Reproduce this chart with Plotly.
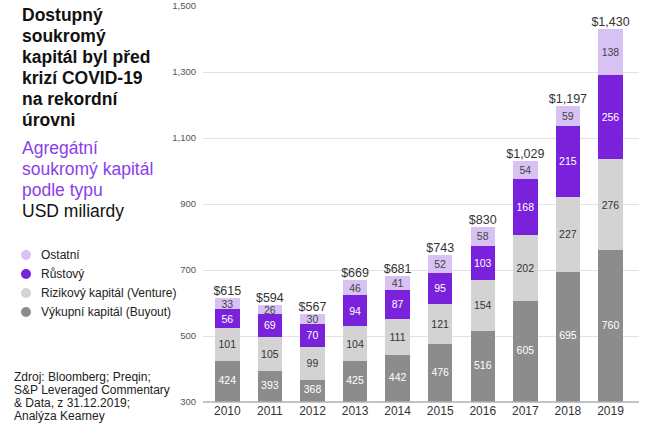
import plotly.graph_objects as go

years = ["2010", "2011", "2012", "2013", "2014", "2015", "2016", "2017", "2018", "2019"]
buyout = [424, 393, 368, 425, 442, 476, 516, 605, 695, 760]
venture = [101, 105, 99, 104, 111, 121, 154, 202, 227, 276]
growth = [56, 69, 70, 94, 87, 95, 103, 168, 215, 256]
other = [33, 26, 30, 46, 41, 52, 58, 54, 59, 138]
totals = [615, 594, 567, 669, 681, 743, 830, 1029, 1197, 1430]
y_ticks = [300, 500, 700, 900, 1100, 1300, 1500]
y_min, y_max = 300, 1500

series_names = ["Výkupní kapitál (Buyout)", "Rizikový kapitál (Venture)", "Růstový", "Ostatní"]
series_vals = [buyout, venture, growth, other]
series_colors = ["#8c8c8c", "#d3d3d3", "#7a22db", "#d8c1f3"]
text_colors = ["#ffffff", "#333333", "#ffffff", "#444444"]

FONT = "Liberation Sans, Arial, sans-serif"

fig = go.Figure()
for i, (name, vals, col, tcol) in enumerate(zip(series_names, series_vals, series_colors, text_colors)):
    fig.add_trace(go.Bar(
        x=years, y=vals, name=name, marker=dict(color=col, line=dict(width=0)),
        text=None if i == 0 else [str(v) for v in vals],
        textposition="inside", insidetextanchor="middle",
        constraintext="none", textangle=0,
        textfont=dict(color=tcol, size=10.5, family=FONT),
        showlegend=False, hoverinfo="skip",
    ))

# buyout labels centred in the visible part of the bar (axis starts at y_min)
fig.add_trace(go.Scatter(
    x=years, y=[(y_min + b) / 2 for b in buyout], mode="text",
    text=[str(b) for b in buyout], textposition="middle center",
    textfont=dict(size=10.5, color="#ffffff", family=FONT),
    showlegend=False, hoverinfo="skip",
))

stack_tops = [b + v + g + o for b, v, g, o in zip(buyout, venture, growth, other)]
fig.add_trace(go.Scatter(
    x=years, y=stack_tops, mode="text", text=["$" + format(t, ",") for t in totals],
    textposition="top center", textfont=dict(size=12.5, color="#333333", family=FONT),
    showlegend=False, hoverinfo="skip", cliponaxis=False,
))

L, T, W, H = 203, 6, 436, 396

fig.update_layout(
    width=651, height=442,
    margin=dict(l=L, r=651 - L - W, t=T, b=442 - T - H, autoexpand=False),
    barmode="stack", bargap=0.427,
    plot_bgcolor="white", paper_bgcolor="white",
    font=dict(family=FONT, color="#333333"),
    xaxis=dict(type="category", range=[-0.571, 9.669], showgrid=False, automargin=False,
               showline=False, ticks="", tickfont=dict(size=12, color="#333333")),
    yaxis=dict(range=[y_min, y_max], tickvals=y_ticks, tickformat=",", automargin=False,
               showgrid=True, gridcolor="#e2e2e2", gridwidth=1, zeroline=False,
               showline=False, ticks="", ticklabelstandoff=6,
               tickfont=dict(size=9.5, color="#555555")),
)

# baseline at axis bottom
fig.add_shape(type="line", xref="paper", yref="paper", x0=0, x1=1, y0=0, y1=0,
              line=dict(color="#b0b0b0", width=1.5))


def px(x):
    return (x - L) / W


def py(y):
    return 1 - (y - T) / H


title_lines = ["Dostupný", "soukromý", "kapitál byl před", "krizí COVID-19", "na rekordní", "úrovni"]
for i, t in enumerate(title_lines):
    fig.add_annotation(text="<b>" + t + "</b>", xref="paper", yref="paper",
                       x=px(20), y=py(15 + 21 * i),
                       xanchor="left", yanchor="middle", showarrow=False,
                       font=dict(size=17.5, color="#111111", family=FONT))

sub_lines = [("Agregátní", "#8b3ee9"), ("soukromý kapitál", "#8b3ee9"), ("podle typu", "#8b3ee9"), ("USD miliardy", "#111111")]
for i, (t, c) in enumerate(sub_lines):
    fig.add_annotation(text=t, xref="paper", yref="paper",
                       x=px(20), y=py(148 + 21 * i),
                       xanchor="left", yanchor="middle", showarrow=False,
                       font=dict(size=17.5, color=c, family=FONT))

legend_order = [3, 2, 1, 0]
for j, k in enumerate(legend_order):
    yc = 255 + 19 * j
    fig.add_shape(type="circle", xref="paper", yref="paper",
                  x0=px(21), x1=px(31), y0=py(yc + 5), y1=py(yc - 5),
                  fillcolor=series_colors[k], line=dict(width=0))
    fig.add_annotation(text=series_names[k], xref="paper", yref="paper",
                       x=px(39), y=py(yc), xanchor="left", yanchor="middle",
                       showarrow=False, font=dict(size=12, color="#222222", family=FONT))

source_lines = ["Zdroj: Bloomberg; Preqin;", "S&P Leveraged Commentary", "& Data, z 31.12.2019;", "Analýza Kearney"]
for i, t in enumerate(source_lines):
    fig.add_annotation(text=t, xref="paper", yref="paper",
                       x=px(12), y=py(377 + 13 * i),
                       xanchor="left", yanchor="middle", showarrow=False,
                       font=dict(size=12, color="#222222", family=FONT))

fig.write_html("out.html", config={"displayModeBar": False},
               post_script="document.body.style.margin='0';")
